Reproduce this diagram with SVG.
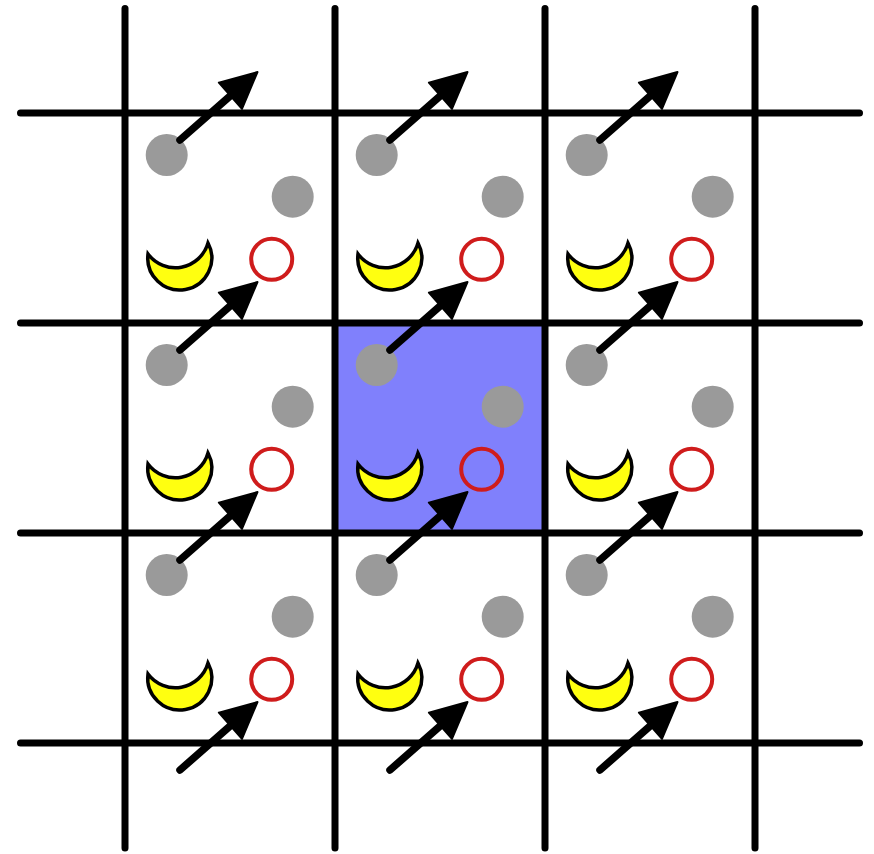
<svg xmlns="http://www.w3.org/2000/svg" xmlns:xlink="http://www.w3.org/1999/xlink" width="874" height="854" viewBox="0 0 874 854">
  <style>
    .grid { stroke: #000; stroke-width: 7; stroke-linecap: round; }
    .dot { fill: #9a9a9a; }
    .ring { fill: none; stroke: #cf1c1c; stroke-width: 4; }
    .moon { fill: #ffff10; stroke: #000; stroke-width: 3.5; stroke-linejoin: miter; }
    .arrow { stroke: #000; stroke-width: 7.5; stroke-linecap: round; fill: none; marker-end: url(#head); }
  </style>
  <defs>
    <marker id="head" markerUnits="userSpaceOnUse" viewBox="-2 -20 40 40" markerWidth="40" markerHeight="40" refX="5.1" refY="0" orient="auto" overflow="visible">
      <path d="M0,-17.5 L36,0 L0,17.5 Z" fill="#000" stroke="#000" stroke-width="2" stroke-linejoin="round"/>
    </marker>
    <g id="cellContent">
      <circle class="dot" cx="166.7" cy="155" r="21"/>
      <circle class="dot" cx="292.7" cy="196.7" r="21"/>
      <circle class="ring" cx="271.7" cy="259.3" r="20.5"/>
      <path class="moon" d="M148,254 A32,32 0 1 0 208,243 A34,34 0 0 1 148,254 Z"/>
    </g>
  </defs>
  <rect width="874" height="854" fill="#fff"/>
  <rect id="highlight" x="335" y="323" width="210" height="210" fill="#8080fc"/>
  <g id="grid">
    <line class="grid" x1="125" y1="8.5" x2="125" y2="848"/>
    <line class="grid" x1="335" y1="8.5" x2="335" y2="848"/>
    <line class="grid" x1="545" y1="8.5" x2="545" y2="848"/>
    <line class="grid" x1="755" y1="8.5" x2="755" y2="848"/>
    <line class="grid" x1="20.5" y1="113" x2="859.5" y2="113"/>
    <line class="grid" x1="20.5" y1="323" x2="859.5" y2="323"/>
    <line class="grid" x1="20.5" y1="533" x2="859.5" y2="533"/>
    <line class="grid" x1="20.5" y1="743" x2="859.5" y2="743"/>
  </g>
  <g id="cell-0-0"><use xlink:href="#cellContent" href="#cellContent"/></g>
  <g id="cell-0-1" transform="translate(210,0)"><use xlink:href="#cellContent" href="#cellContent"/></g>
  <g id="cell-0-2" transform="translate(420,0)"><use xlink:href="#cellContent" href="#cellContent"/></g>
  <g id="cell-1-0" transform="translate(0,210)"><use xlink:href="#cellContent" href="#cellContent"/></g>
  <g id="cell-1-1" transform="translate(210,210)"><use xlink:href="#cellContent" href="#cellContent"/></g>
  <g id="cell-1-2" transform="translate(420,210)"><use xlink:href="#cellContent" href="#cellContent"/></g>
  <g id="cell-2-0" transform="translate(0,420)"><use xlink:href="#cellContent" href="#cellContent"/></g>
  <g id="cell-2-1" transform="translate(210,420)"><use xlink:href="#cellContent" href="#cellContent"/></g>
  <g id="cell-2-2" transform="translate(420,420)"><use xlink:href="#cellContent" href="#cellContent"/></g>
  <g id="connectors">
    <line class="arrow" x1="180" y1="140" x2="234.25" y2="92.4"/>
    <line class="arrow" x1="390" y1="140" x2="444.25" y2="92.4"/>
    <line class="arrow" x1="600" y1="140" x2="654.25" y2="92.4"/>
    <line class="arrow" x1="180" y1="350" x2="234.25" y2="302.4"/>
    <line class="arrow" x1="390" y1="350" x2="444.25" y2="302.4"/>
    <line class="arrow" x1="600" y1="350" x2="654.25" y2="302.4"/>
    <line class="arrow" x1="180" y1="560" x2="234.25" y2="512.4"/>
    <line class="arrow" x1="390" y1="560" x2="444.25" y2="512.4"/>
    <line class="arrow" x1="600" y1="560" x2="654.25" y2="512.4"/>
    <line class="arrow" x1="180" y1="770" x2="234.25" y2="722.4"/>
    <line class="arrow" x1="390" y1="770" x2="444.25" y2="722.4"/>
    <line class="arrow" x1="600" y1="770" x2="654.25" y2="722.4"/>
  </g>
</svg>
